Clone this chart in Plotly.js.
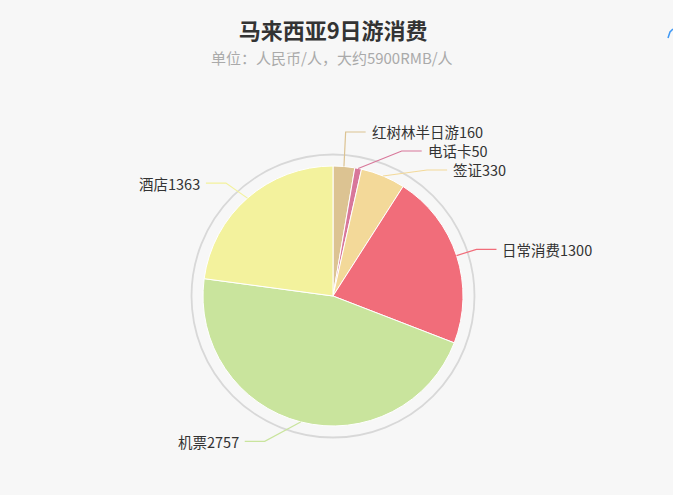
<!DOCTYPE html>
<html>
<head>
<meta charset="utf-8">
<script src="https://cdn.plot.ly/plotly-3.0.1.min.js"></script>
<style>
  html, body { margin: 0; padding: 0; background: #f7f7f7; }
  #chart { width: 673px; height: 495px; }
</style>
</head>
<body>
<div id="chart"></div>
<script>
// data
var categories = ['红树林半日游', '电话卡', '签证', '日常消费', '机票', '酒店']
var costs = [160, 50, 330, 1300, 2757, 1363]
var sliceColors = ['#dcc392', '#d8779a', '#f3d999', '#f16d7a', '#c9e49d', '#f3f29d']

var W = 673, H = 495
var cx = 333, cy = 296, R = 130     // pie centre / radius in px
var len1 = 20, len2 = 20, labelGap = 19
var font = '"Noto Sans CJK SC", "Microsoft YaHei", sans-serif'

function px(x) { return x / W }
function py(y) { return 1 - y / H }

var total = costs.reduce(function (a, b) { return a + b }, 0)

// work out the label lines, echarts style
var labels = []
var acc = 0
costs.forEach(function (v, i) {
  var mid = (acc + v / 2) / total * 2 * Math.PI
  acc += v
  var s = Math.sin(mid), c = Math.cos(mid)
  labels.push({
    i: i,
    side: s >= 0 ? 1 : -1,
    x0: cx + R * s, y0: cy - R * c,
    ex: cx + (R + len1) * s,
    y: cy - (R + len1) * c
  })
})

;[1, -1].forEach(function (side) {
  var list = labels.filter(function (l) { return l.side == side })
  list.sort(function (a, b) { return a.y - b.y })
  for (var k = 0; k < 60; k++) {
    for (var j = 1; j < list.length; j++) {
      var diff = list[j].y - list[j-1].y
      if (diff < labelGap) {
        var d = (labelGap - diff) / 2
        list[j-1].y -= d
        list[j].y += d
      }
    }
  }
})

var shapes = []
var annotations = []
labels.forEach(function (l) {
  var dy = Math.abs(l.y - cy)
  var dx
  if (dy < R + len1) dx = Math.sqrt(Math.pow(R + len1 + len2, 2) - dy * dy)
  else dx = Math.abs(l.ex - cx) + len2
  var x2 = cx + dx * l.side
  var x1 = x2 - len2 * l.side
  shapes.push({
    type: 'path', xref: 'paper', yref: 'paper',
    path: 'M ' + px(l.x0) + ',' + py(l.y0) + ' L ' + px(x1) + ',' + py(l.y) + ' L ' + px(x2) + ',' + py(l.y),
    line: {color: sliceColors[l.i], width: 1.2}
  })
  annotations.push({
    xref: 'paper', yref: 'paper',
    x: px(x2 + 5 * l.side), y: py(l.y),
    xanchor: l.side > 0 ? 'left' : 'right', yanchor: 'middle',
    text: categories[l.i] + costs[l.i],
    showarrow: false, borderpad: 0,
    font: {family: font, size: 14.5, color: '#333'}
  })
})

// outer decorative ring
shapes.push({
  type: 'circle', xref: 'paper', yref: 'paper', layer: 'below',
  x0: px(cx - 141.5), x1: px(cx + 141.5), y0: py(cy + 141.5), y1: py(cy - 141.5),
  line: {color: '#d8d8d8', width: 1.8}
})

// cut-off toolbox icon in the corner
shapes.push({
  type: 'path', xref: 'paper', yref: 'paper',
  path: 'M ' + px(668) + ',' + py(38) + ' L ' + px(670) + ',' + py(32) + ' L ' + px(673) + ',' + py(29),
  line: {color: '#3e98f5', width: 1.5}
})

annotations.push({
  xref: 'paper', yref: 'paper', x: px(332), y: py(58),
  xanchor: 'center', yanchor: 'middle', showarrow: false,
  text: '单位：人民币/人，大约5900RMB/人',
  font: {family: font, size: 15, color: '#aaa'}
})

var trace = {
  type: 'pie',
  labels: categories,
  values: costs,
  sort: false,
  direction: 'clockwise',
  rotation: 0,
  textinfo: 'none',
  hoverinfo: 'label+value+percent',
  marker: {colors: sliceColors, line: {color: '#fff', width: 1}},
  domain: {x: [px(cx - R), px(cx + R)], y: [py(cy + R), py(cy - R)]},
  showlegend: false
}

var layout = {
  width: W, height: H,
  margin: {l: 0, r: 0, t: 0, b: 0},
  paper_bgcolor: '#f7f7f7',
  plot_bgcolor: '#f7f7f7',
  title: {
    text: '马来西亚9日游消费',
    x: 0.495, xanchor: 'center',
    y: 1 - 31 / H, yanchor: 'middle', yref: 'container',
    font: {family: font, size: 22, color: '#333', weight: 'bold'}
  },
  shapes: shapes,
  annotations: annotations,
  showlegend: false
}

Plotly.newPlot('chart', [trace], layout, {displayModeBar: false})
</script>
</body>
</html>
